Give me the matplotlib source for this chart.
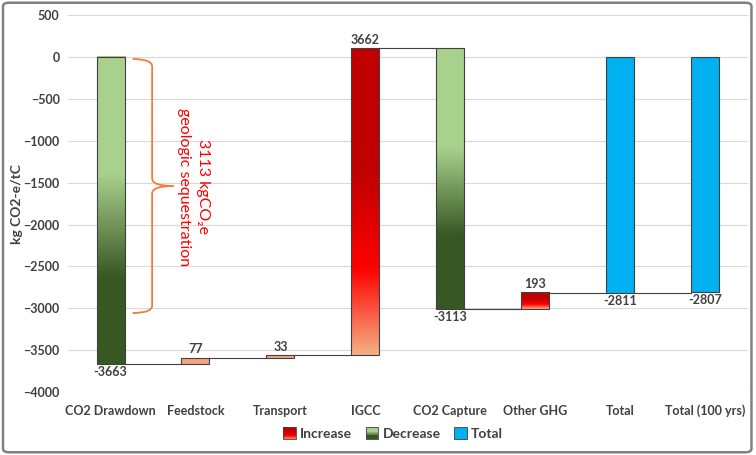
import numpy as np
import matplotlib
matplotlib.use("Agg")
import matplotlib.pyplot as plt
from matplotlib.colors import LinearSegmentedColormap
from matplotlib.patches import Rectangle, FancyBboxPatch, PathPatch
from matplotlib.path import Path
from matplotlib.legend_handler import HandlerBase

plt.rcParams["font.family"] = ["Lato", "DejaVu Sans"]

categories = ["CO2 Drawdown", "Feedstock", "Transport", "IGCC", "CO2 Capture",
              "Other GHG", "Total", "Total (100 yrs)"]
values = [-3663, 77, 33, 3662, -3113, 193, -2811, -2807]
is_total = [False, False, False, False, False, False, True, True]
yticks = [500, 0, -500, -1000, -1500, -2000, -2500, -3000, -3500, -4000]

GREEN = LinearSegmentedColormap.from_list(
    "dec", [(0, "#a9d18e"), (0.38, "#a9d18e"), (0.72, "#385723"), (1, "#385723")])
RED = LinearSegmentedColormap.from_list(
    "inc", [(0, "#c00000"), (0.4, "#c00000"), (0.72, "#ff0000"), (1, "#f4b183")])
BLUE = "#00b0f0"
SMALL_INC = "#f4a582"  # tiny increase bars render as a flat salmon colour
EDGE = "#404040"
TXT = "#404040"


class GradientHandler(HandlerBase):
    def __init__(self, cmap):
        super().__init__()
        self.cmap = cmap

    def create_artists(self, legend, orig_handle, xdescent, ydescent, width,
                       height, fontsize, trans):
        size = height * 1.1
        x0 = -xdescent + (width - size) / 2
        y0 = -ydescent + (height - size) / 2
        n = 16
        arts = []
        for i in range(n):
            c = self.cmap((i + 0.5) / n)
            arts.append(Rectangle((x0, y0 + size * (1 - (i + 1) / n)), size, size / n,
                                  facecolor=c, edgecolor="none", transform=trans))
        arts.append(Rectangle((x0, y0), size, size, fill=False, edgecolor=EDGE,
                              lw=0.6, transform=trans))
        return arts


fig = plt.figure(figsize=(7.56, 4.55), dpi=100)
ax = fig.add_axes([0.09, 0.138, 0.899, 0.829])

w = 0.33
x = np.arange(len(categories))
running = 0
ends = []
for i, (v, tot) in enumerate(zip(values, is_total)):
    if tot:
        start, end = 0, v
    else:
        start, end = running, running + v
        running = end
    ends.append(end)
    lo, hi = min(start, end), max(start, end)
    if tot:
        ax.bar(x[i], hi - lo, bottom=lo, width=w, color=BLUE, edgecolor=EDGE,
               lw=0.8, zorder=3)
    elif 0 < v < 120:
        ax.bar(x[i], hi - lo, bottom=lo, width=w, color=SMALL_INC, edgecolor=EDGE,
               lw=0.8, zorder=3)
    else:
        cmap = RED if v > 0 else GREEN
        grad = np.linspace(0, 1, 256).reshape(-1, 1)
        ax.imshow(grad, cmap=cmap, extent=(x[i] - w / 2, x[i] + w / 2, lo, hi),
                  aspect="auto", origin="upper", zorder=3, interpolation="bilinear")
        ax.add_patch(Rectangle((x[i] - w / 2, lo), w, hi - lo, fill=False,
                               edgecolor=EDGE, lw=0.8, zorder=4))
    # data label
    if v > 0:
        ax.text(x[i], hi + 25, str(v), ha="center", va="bottom", fontsize=9,
                color=TXT, fontweight="bold", zorder=5)
    else:
        ax.text(x[i], lo - 25, str(v), ha="center", va="top", fontsize=9,
                color=TXT, fontweight="bold", zorder=5)

# connectors
for i in range(len(values) - 1):
    ax.plot([x[i] + w / 2, x[i + 1] - w / 2], [ends[i], ends[i]], color=EDGE,
            lw=0.8, zorder=2)

# brace
xe, xv, xt = 0.26, 0.49, 0.74
yt, ym, yb, r = -25, -1540, -3055, 90
verts = [(xe, yt), (xv, yt), (xv, yt - r),
         (xv, ym + r), (xv, ym), (xt, ym),
         (xv, ym), (xv, ym - r),
         (xv, yb + r), (xv, yb), (xe, yb)]
codes = [Path.MOVETO, Path.CURVE3, Path.CURVE3,
         Path.LINETO, Path.CURVE3, Path.CURVE3,
         Path.CURVE3, Path.CURVE3,
         Path.LINETO, Path.CURVE3, Path.CURVE3]
ax.add_patch(PathPatch(Path(verts, codes), fill=False, edgecolor="#f47c3c",
                       lw=1.3, zorder=5))
ax.text(1.09, -1550, "3113 kgCO₂e", rotation=-90, ha="center", va="center",
        color="#ff0000", fontsize=11.5, zorder=5)
ax.text(0.86, -1550, "geologic sequestration", rotation=-90, ha="center",
        va="center", color="#ff0000", fontsize=11.5, zorder=5)

ax.set_xlim(-0.5, 7.5)
ax.set_ylim(-4000, 500)
ax.set_yticks(yticks)
ax.set_xticks(x)
ax.set_xticklabels(categories)
ax.tick_params(axis="x", length=0, labelsize=9, colors=TXT, pad=9)
ax.tick_params(axis="y", length=0, labelsize=9, colors=TXT, pad=6)
for lab in ax.get_xticklabels() + ax.get_yticklabels():
    lab.set_fontweight("bold")
ax.grid(axis="y", color="#d9d9d9", lw=0.8, zorder=0)
ax.set_axisbelow(True)
for s in ax.spines.values():
    s.set_visible(False)
ax.set_ylabel("kg CO2-e/tC", fontsize=10, color=TXT, fontweight="bold")
ax.yaxis.set_label_coords(-0.066, 0.5)

handles = [Rectangle((0, 0), 1, 1), Rectangle((0, 1), 1, 1),
           Rectangle((0, 0), 1, 1, facecolor=BLUE, edgecolor=EDGE, lw=0.6)]
leg = fig.legend(handles, ["Increase", "Decrease", "Total"], loc="center",
                 bbox_to_anchor=(0.52, 0.047), ncol=3, frameon=False, fontsize=10,
                 handlelength=0.9, handleheight=0.9, handletextpad=0.3,
                 columnspacing=1.0,
                 handler_map={handles[0]: GradientHandler(RED),
                              handles[1]: GradientHandler(GREEN)})
for t in leg.get_texts():
    t.set_color(TXT)
    t.set_fontweight("bold")

fig.patches.append(FancyBboxPatch((0.004, 0.006), 0.99, 0.988,
                                  boxstyle="round,pad=0,rounding_size=0.008",
                                  transform=fig.transFigure, fill=False,
                                  edgecolor="#808080", lw=1.8))

fig.savefig("out.png", dpi=100)
